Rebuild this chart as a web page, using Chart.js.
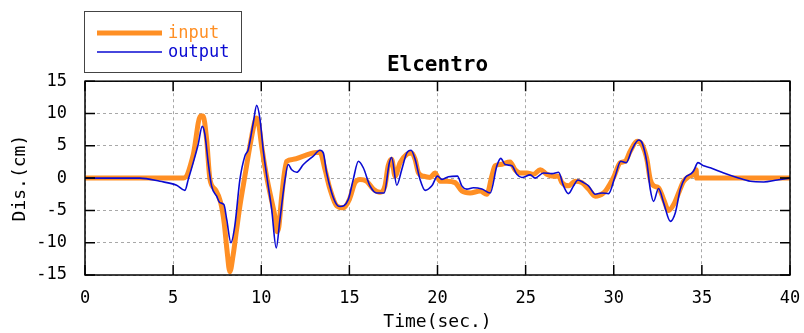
<!DOCTYPE html>
<html>
<head>
<meta charset="UTF-8">
<title>Elcentro</title>
<style>
  body { margin: 0; background: #fff; }
  .box { position: relative; width: 804px; height: 333px; }
</style>
</head>
<body>
<div class="box"><canvas id="myChart"></canvas></div>

<script src="https://cdn.jsdelivr.net/npm/chart.js@4.4.1/dist/chart.umd.min.js"></script>
<script>
// input (ground motion)
var inputTime = [0, 5.6, 6.14, 6.55, 6.7, 6.9, 7.09, 7.4, 7.7, 7.9, 8.05, 8.22, 8.4, 8.6, 8.79, 9.07, 9.36, 9.64, 9.74, 9.85,
  10.02, 10.3, 10.55, 10.78, 10.9, 11.0, 11.16, 11.44, 11.82, 12.39, 12.95, 13.33, 13.62, 13.9, 14.28, 14.66, 15.0, 15.32,
  15.6, 15.98, 16.36, 16.74, 17.02, 17.2, 17.4, 17.59, 17.88, 18.26, 18.54, 18.73, 18.92, 19.2, 19.58, 19.86, 20.15, 20.53,
  21.0, 21.38, 21.85, 22.42, 22.8, 23.08, 23.27, 23.55, 24.12, 24.4, 24.69, 25.07, 25.45, 25.83, 26.2, 26.58, 26.87, 27.06,
  27.43, 27.81, 28.19, 28.57, 28.95, 29.42, 29.61, 29.99, 30.37, 30.65, 30.94, 31.32, 31.6, 31.88, 32.07, 32.26, 32.54,
  32.83, 33.11, 33.4, 33.68, 33.96, 34.25, 34.53, 34.68, 34.7, 40];
var inputDis = [0, 0, 3.6, 9.6, 9.6, 6.0, -0.2, -1.8, -3.8, -7, -11, -14.5, -12, -8, -4.3, 0.3, 5, 8.8, 9.3, 8.5,
  5, 0.3, -3, -6, -8.3, -7.5, -2.8, 2.6, 2.9, 3.4, 3.9, 4.0, 1.3, -1.7, -4.3, -4.6, -3.3, -0.7,
  -0.2, -0.5, -1.7, -2.2, -1.2, 1.9, 2.9, 0.3, 2.4, 3.7, 3.9, 2.9, 0.8, 0.3, 0.1, 0.8, -0.5, -0.5,
  -0.7, -2.0, -2.3, -2.0, -2.5, 0.3, 1.9, 2.1, 2.5, 1.3, 0.8, 0.8, 0.6, 1.3, 0.6, 0.3, 0.3, -0.7,
  -1.2, -0.5, -0.7, -1.7, -2.8, -2.3, -1.7, 0.1, 2.4, 2.6, 4.2, 5.7, 5.2, 2.9, -0.2, -1.2, -1.5,
  -3.3, -5.0, -4.1, -2.3, -0.5, 0.2, 0.6, 1.3, 0, 0];

// output (response)
var outputTime = [0, 2.5, 3.12, 4.25, 5.2, 5.67, 5.86, 6.14, 6.42, 6.65, 6.8, 6.99, 7.18, 7.47, 7.65, 7.88, 8.04, 8.28, 8.5,
  8.79, 9.07, 9.26, 9.55, 9.74, 9.93, 10.11, 10.34, 10.59, 10.85, 11.06, 11.35, 11.53, 11.73, 12.01, 12.39, 12.95, 13.33,
  13.52, 13.71, 14.0, 14.28, 14.47, 14.94, 15.22, 15.51, 15.79, 16.17, 16.55, 16.97, 17.27, 17.4, 17.69, 17.97, 18.26,
  18.5, 18.73, 19.01, 19.3, 19.68, 20.0, 20.25, 20.62, 21.13, 21.38, 21.66, 22.04, 22.52, 22.99, 23.37, 23.59, 23.84,
  24.22, 24.5, 24.79, 25.26, 25.54, 26.01, 26.49, 26.87, 27.15, 27.43, 27.72, 27.97, 28.29, 28.57, 28.95, 29.33, 29.71,
  30.08, 30.4, 30.71, 31.03, 31.41, 31.6, 31.88, 32.07, 32.26, 32.54, 32.83, 33.21, 33.49, 33.78, 34.06, 34.34, 34.53,
  34.78, 35.1, 35.48, 36.24, 36.99, 37.75, 38.51, 39.27, 40];
var outputDis = [0, 0, 0, -0.5, -1.1, -1.9, -0.2, 2.4, 5.2, 8.0, 6.8, 2.4, -1.2, -2.8, -3.8, -4.1, -6.4, -10.0, -7.4,
  -0.2, 3.4, 4.4, 8.6, 11.25, 9.1, 4.4, -0.2, -4.8, -10.8, -6.4, -0.2, 2.1, 1.3, 0.9, 2.1, 3.4, 4.3,
  3.9, 0.8, -2.3, -4.1, -4.4, -3.3, -0.2, 2.6, 1.6, -1.2, -2.3, -2.3, 2.4, 3.2, -1.1, 1.3, 3.9,
  4.3, 2.9, -0.2, -1.9, -1.2, 0.3, -0.2, 0.2, 0.3, -1.2, -1.7, -1.5, -1.7, -2.3, 1.9, 3.05, 2.1,
  1.9, 0.6, 0.1, 0.5, 0, 0.8, 0.7, 0.9, -1.2, -2.4, -1.2, -0.3, -0.7, -1.2, -2.5, -2.3, -2.4,
  0.3, 2.6, 2.4, 4.4, 5.9, 5.5, 2.4, -1.7, -3.6, -1.6, -3.8, -6.7, -5.4, -1.7, 0.1, 0.6, 1.1,
  2.4, 1.9, 1.6, 0.8, 0.1, -0.5, -0.6, -0.3, 0];

var xTicks = [0, 5, 10, 15, 20, 25, 30, 35, 40];
var yTicks = [-15, -10, -5, 0, 5, 10, 15];

var FONT = '"DejaVu Sans Mono", monospace';

function toPoints(t, v) {
    return t.map(function(x, i) { return {x: x, y: v[i]}; });
}

// box and inner tick marks
var framePlugin = {
    id: 'frame',
    afterDraw: function(chart) {
        var a = chart.chartArea, ctx = chart.ctx;
        var xs = chart.scales.x, ys = chart.scales.y;
        ctx.save();
        ctx.strokeStyle = '#000';
        ctx.lineWidth = 1.5;
        ctx.strokeRect(a.left, a.top, a.right - a.left, a.bottom - a.top);
        ctx.beginPath();
        xTicks.forEach(function(v) {
            var p = xs.getPixelForValue(v);
            ctx.moveTo(p, a.bottom); ctx.lineTo(p, a.bottom - 10);
            ctx.moveTo(p, a.top); ctx.lineTo(p, a.top + 10);
        });
        yTicks.forEach(function(v) {
            var p = ys.getPixelForValue(v);
            ctx.moveTo(a.left, p); ctx.lineTo(a.left + 10, p);
            ctx.moveTo(a.right, p); ctx.lineTo(a.right - 10, p);
        });
        ctx.stroke();
        ctx.restore();
    }
};

// legend with a frame, top left
var legendPlugin = {
    id: 'boxLegend',
    afterDraw: function(chart) {
        var ctx = chart.ctx;
        var rows = [33, 52];
        ctx.save();
        ctx.fillStyle = '#fff';
        ctx.fillRect(84.5, 11.5, 157, 61);
        ctx.strokeStyle = '#444';
        ctx.lineWidth = 1;
        ctx.strokeRect(84.5, 11.5, 157, 61);
        ctx.font = '17px ' + FONT;
        ctx.textBaseline = 'middle';
        chart.data.datasets.forEach(function(ds, i) {
            ctx.strokeStyle = ds.borderColor;
            ctx.lineWidth = ds.borderWidth;
            ctx.beginPath();
            ctx.moveTo(97, rows[i]);
            ctx.lineTo(162, rows[i]);
            ctx.stroke();
            ctx.fillStyle = ds.borderColor;
            ctx.fillText(ds.label, 168, rows[i] + 1);
        });
        ctx.restore();
    }
};

new Chart('myChart', {
    type: 'line',
    data: {
        datasets: [{
            label: 'input',
            data: toPoints(inputTime, inputDis),
            borderColor: '#FF8F24',
            borderWidth: 5,
            pointRadius: 0,
            cubicInterpolationMode: 'monotone',
            order: 2
        }, {
            label: 'output',
            data: toPoints(outputTime, outputDis),
            borderColor: '#0A0AD2',
            borderWidth: 1.6,
            pointRadius: 0,
            cubicInterpolationMode: 'monotone',
            order: 1
        }]
    },
    options: {
        responsive: true,
        maintainAspectRatio: false,
        animation: false,
        events: [],
        plugins: {
            legend: { display: false },
            tooltip: { enabled: false },
            title: {
                display: true,
                text: 'Elcentro',
                color: '#000',
                fullSize: false,
                font: { family: FONT, size: 21, weight: 'bold' },
                padding: { top: 53, bottom: 3 }
            }
        },
        scales: {
            x: {
                type: 'linear',
                min: 0,
                max: 40,
                afterBuildTicks: function(s) { s.ticks = xTicks.map(function(v) { return {value: v}; }); },
                afterFit: function(s) { s.height = 58; s.paddingLeft = 0; s.paddingRight = 0; },
                grid: { color: '#a8a8a8', drawTicks: false },
                border: { display: false, dash: [3, 3] },
                ticks: { color: '#000', padding: 13, maxRotation: 0, autoSkip: false,
                         font: { family: FONT, size: 17 } },
                title: { display: true, text: 'Time(sec.)', color: '#000',
                         font: { family: FONT, size: 18 }, padding: { top: 0, bottom: 0 } }
            },
            y: {
                min: -15,
                max: 15,
                afterBuildTicks: function(s) { s.ticks = yTicks.map(function(v) { return {value: v}; }); },
                afterFit: function(s) { s.width = 85; },
                grid: { color: '#a8a8a8', drawTicks: false },
                border: { display: false, dash: [3, 3] },
                ticks: { color: '#000', padding: 18, font: { family: FONT, size: 17 } },
                title: { display: true, text: 'Dis.(cm)', color: '#000',
                         font: { family: FONT, size: 18 }, padding: { top: 10, bottom: 0 } }
            }
        },
        layout: { padding: { right: 14 } }
    },
    plugins: [framePlugin, legendPlugin]
});
</script>
</body>
</html>
